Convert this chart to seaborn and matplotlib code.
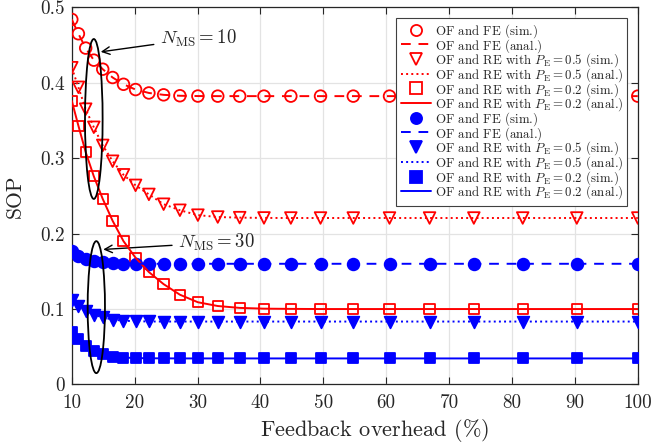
import matplotlib
matplotlib.use('Agg')
import matplotlib.pyplot as plt
import seaborn as sns
from matplotlib.lines import Line2D
from matplotlib.patches import Ellipse

# feedback overhead (%) sample points
overhead = [10.0, 11.05, 12.21, 13.50, 14.92, 16.49, 18.22, 20.14, 22.26, 24.60,
            27.19, 30.05, 33.21, 36.70, 40.56, 44.83, 49.55, 54.76, 60.52, 66.89,
            73.93, 81.70, 90.30, 100.0]

# N_MS = 10 (red)
fe_10 = [0.484, 0.465, 0.446, 0.430, 0.418, 0.407, 0.398, 0.391, 0.3865, 0.384,
         0.3828, 0.3824, 0.3823, 0.3823, 0.3823, 0.3823, 0.3823, 0.3823, 0.3823, 0.3823,
         0.3823, 0.3823, 0.3823, 0.3823]
re05_10 = [0.420, 0.394, 0.365, 0.341, 0.317, 0.296, 0.278, 0.264, 0.252, 0.239,
           0.231, 0.2245, 0.222, 0.2212, 0.2208, 0.2207, 0.2207, 0.2207, 0.2207, 0.2207,
           0.2207, 0.2207, 0.2207, 0.2207]
re02_10 = [0.376, 0.343, 0.308, 0.276, 0.246, 0.217, 0.190, 0.168, 0.149, 0.133,
           0.119, 0.109, 0.104, 0.1015, 0.1005, 0.1002, 0.1, 0.1, 0.1, 0.1,
           0.1, 0.1, 0.1, 0.1]

# N_MS = 30 (blue)
fe_30 = [0.177, 0.1705, 0.1665, 0.1635, 0.1618, 0.1608, 0.1603, 0.1601, 0.160, 0.160,
         0.160, 0.160, 0.160, 0.160, 0.160, 0.160, 0.160, 0.160, 0.160, 0.160,
         0.160, 0.160, 0.160, 0.160]
re05_30 = [0.1125, 0.104, 0.097, 0.0925, 0.089, 0.086, 0.0845, 0.0838, 0.0835, 0.0834,
           0.0834, 0.0834, 0.0834, 0.0834, 0.0834, 0.0834, 0.0834, 0.0834, 0.0834, 0.0834,
           0.0834, 0.0834, 0.0834, 0.0834]
re02_30 = [0.070, 0.060, 0.051, 0.044, 0.040, 0.037, 0.0357, 0.035, 0.0347, 0.0346,
           0.0345, 0.0345, 0.0345, 0.0345, 0.0345, 0.0345, 0.0345, 0.0345, 0.0345, 0.0345,
           0.0345, 0.0345, 0.0345, 0.0345]

x_ticks = [10, 20, 30, 40, 50, 60, 70, 80, 90, 100]
y_ticks = [0, 0.1, 0.2, 0.3, 0.4, 0.5]
y_ticklabels = ['0', '0.1', '0.2', '0.3', '0.4', '0.5']

sns.set_style('ticks')
plt.rcParams['font.family'] = ['cmr10', 'DejaVu Serif']
plt.rcParams['mathtext.fontset'] = 'cm'
plt.rcParams['axes.unicode_minus'] = False

fig = plt.figure(figsize=(6.71, 4.46), dpi=100)
ax = fig.add_axes([0.107, 0.138, 0.8435, 0.8455])

# empty subscript so every legend row gets the same depth as the P_E rows
strut = r'$_{\,}$'

# (data, colour, marker, filled, linestyle, sim label, anal label)
series = [
    (fe_10, 'red', 'o', False, (0, (5, 4)), 'OF and FE (sim.)' + strut, 'OF and FE (anal.)' + strut),
    (re05_10, 'red', 'v', False, ':', r'OF and RE with $P_{\rm E}=0.5$ (sim.)',
     r'OF and RE with $P_{\rm E}=0.5$ (anal.)'),
    (re02_10, 'red', 's', False, '-', r'OF and RE with $P_{\rm E}=0.2$ (sim.)',
     r'OF and RE with $P_{\rm E}=0.2$ (anal.)'),
    (fe_30, 'blue', 'o', True, (0, (5, 4)), 'OF and FE (sim.)' + strut, 'OF and FE (anal.)' + strut),
    (re05_30, 'blue', 'v', True, ':', r'OF and RE with $P_{\rm E}=0.5$ (sim.)',
     r'OF and RE with $P_{\rm E}=0.5$ (anal.)'),
    (re02_30, 'blue', 's', True, '-', r'OF and RE with $P_{\rm E}=0.2$ (sim.)',
     r'OF and RE with $P_{\rm E}=0.2$ (anal.)'),
]

handles = []
labels = []
for vals, col, mk, filled, ls, lab_sim, lab_anal in series:
    msize = 70 if mk != 's' else 55
    sns.scatterplot(x=overhead, y=vals, ax=ax, marker=mk, s=msize,
                    facecolor=col if filled else 'none', edgecolor=col,
                    linewidth=1.3, zorder=3, legend=False)
    sns.lineplot(x=overhead, y=vals, ax=ax, color=col, linestyle=ls,
                 linewidth=1.4, zorder=4, legend=False)
    handles.append(Line2D([], [], color=col, marker=mk, linestyle='none', markersize=8,
                          markerfacecolor=col if filled else 'none', markeredgewidth=1.3))
    labels.append(lab_sim)
    handles.append(Line2D([], [], color=col, linestyle=ls, linewidth=1.4))
    labels.append(lab_anal)

# ellipses grouping the two user cases
ax.add_patch(Ellipse((13.5, 0.352), 2.8, 0.212, fill=False, edgecolor='black', lw=1.3, zorder=5))
ax.add_patch(Ellipse((13.9, 0.1025), 2.75, 0.175, fill=False, edgecolor='black', lw=1.3, zorder=5))

ax.annotate(r'$N_{\rm MS}=10$', xy=(14.6, 0.441), xytext=(24.0, 0.459),
            fontsize=13.5, va='center', ha='left',
            arrowprops=dict(arrowstyle='->', color='black', lw=1.0, shrinkA=2, shrinkB=0))
ax.annotate(r'$N_{\rm MS}=30$', xy=(15.0, 0.179), xytext=(26.9, 0.188),
            fontsize=13.5, va='center', ha='left',
            arrowprops=dict(arrowstyle='->', color='black', lw=1.0, shrinkA=2, shrinkB=0))

ax.set_xlim(10, 100)
ax.set_ylim(0, 0.5)
ax.set_xticks(x_ticks)
ax.set_yticks(y_ticks)
ax.set_yticklabels(y_ticklabels)
ax.tick_params(direction='in', top=True, right=True, labelsize=13.8, length=5, width=0.8)
ax.tick_params(axis='x', pad=7)
ax.tick_params(axis='y', pad=5)
ax.grid(True, color='#e3e3e3', linewidth=0.9)
ax.set_axisbelow(True)
for sp in ax.spines.values():
    sp.set_linewidth(0.9)
    sp.set_color('#262626')

ax.set_xlabel(r'Feedback overhead $\mathsf{(\%)}$', fontsize=16, labelpad=2)
ax.xaxis.set_label_coords(0.534, -0.085)
ax.set_ylabel('SOP', fontsize=15.5, labelpad=11)

leg = ax.legend(handles, labels, loc='upper right', fontsize=9.3, frameon=True,
                fancybox=False, edgecolor='#404040', framealpha=1,
                handlelength=2.35, handleheight=0.9, handletextpad=0.28,
                labelspacing=-0.24, borderpad=0.35, borderaxespad=0.8)
leg.get_frame().set_linewidth(0.8)

fig.savefig('out.png', dpi=100)
plt.close(fig)
